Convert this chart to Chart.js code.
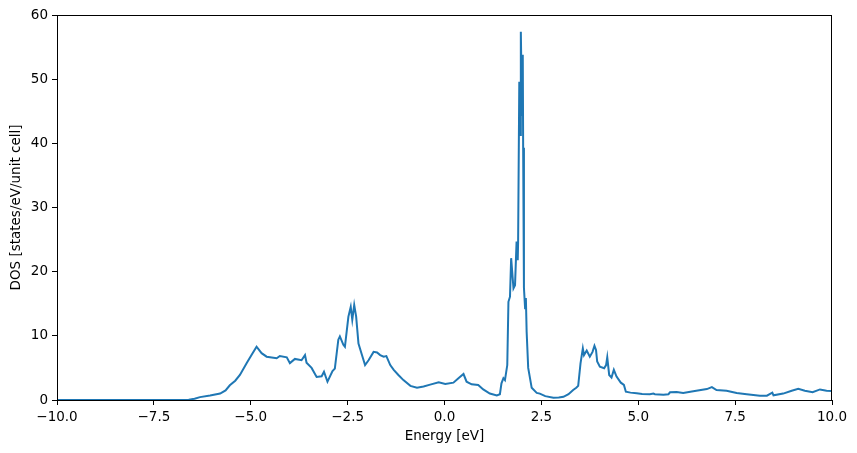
<!DOCTYPE html>
<html>
<head>
<meta charset="utf-8">
<script src="https://cdn.jsdelivr.net/npm/chart.js@4/dist/chart.umd.min.js"></script>
<style>
  html, body { margin: 0; padding: 0; background: #fff; }
  #wrap { width: 857px; height: 453px; }
</style>
</head>
<body>
<div id="wrap"><canvas id="dos" width="857" height="453"></canvas></div>
<script>
// Energy grid (eV) and density of states
const energy = [-10, -7.0, -6.6, -6.45, -6.31, -6.05, -5.79, -5.65, -5.54, -5.40, -5.28, -5.10, -4.98, -4.85, -4.72, -4.59, -4.33, -4.25,
  -4.07, -3.99, -3.86, -3.69, -3.60, -3.56, -3.43, -3.30, -3.17, -3.11, -3.02, -2.89, -2.83, -2.74, -2.70, -2.61,
  -2.57, -2.48, -2.42, -2.38, -2.33, -2.28, -2.22, -2.13, -2.05, -1.96, -1.83, -1.74, -1.66, -1.57, -1.50, -1.40,
  -1.31, -1.19, -1.06, -0.88, -0.71, -0.54, -0.37, -0.15, 0.02, 0.23, 0.36, 0.49, 0.57, 0.70, 0.87, 1.00, 1.17,
  1.35, 1.43, 1.47, 1.52, 1.56, 1.62, 1.65, 1.69, 1.72, 1.78, 1.82, 1.86, 1.89, 1.90, 1.93, 1.95, 1.97, 2.00,
  2.02, 2.03, 2.05, 2.08, 2.10, 2.12, 2.16, 2.25, 2.38, 2.46, 2.60, 2.81, 2.95, 3.07, 3.20, 3.32, 3.40, 3.45, 3.51, 3.57, 3.60, 3.67,
  3.75, 3.82, 3.87, 3.91, 3.94, 4.01, 4.12, 4.17, 4.20, 4.25, 4.31, 4.37, 4.44, 4.55, 4.63, 4.68, 4.80, 4.96, 5.10, 5.30,
  5.39, 5.43, 5.65, 5.78, 5.82, 5.99, 6.16, 6.42, 6.77, 6.90, 7.02, 7.28, 7.54, 7.80, 8.14, 8.32, 8.46, 8.49,
  8.74, 8.96, 9.13, 9.30, 9.50, 9.69, 9.86, 10.0];
const dos = [0, 0, 0.05, 0.2, 0.45, 0.7, 1.0, 1.5, 2.3, 3.0, 3.9, 5.8, 7.0, 8.3, 7.3, 6.75, 6.5, 6.85,
  6.65, 5.75, 6.4, 6.2, 7.0, 5.8, 5.0, 3.6, 3.7, 4.4, 2.85, 4.5, 4.9, 9.4, 9.9, 8.6,
  8.3, 13.0, 14.5, 12.5, 14.8, 13.0, 8.8, 7.0, 5.45, 6.2, 7.5, 7.4, 7.0, 6.75, 6.85, 5.45,
  4.7, 3.9, 3.1, 2.2, 1.9, 2.1, 2.4, 2.75, 2.5, 2.7, 3.4, 4.05, 2.85, 2.45, 2.35, 1.65, 1.0,
  0.7, 0.9, 2.6, 3.4, 3.1, 5.45, 15.3, 16.1, 22.1, 17.4, 17.9, 24.7, 21.8, 24.7, 49.6, 41.3, 57.4, 44.4,
  53.8, 39.3, 17.5, 14.3, 15.9, 10.6, 5.0, 1.9, 1.1, 1.0, 0.6, 0.36, 0.38, 0.5, 0.9, 1.55, 1.9, 2.2, 5.7, 8.05, 7.0, 7.7,
  6.75, 7.5, 8.45, 7.8, 6.0, 5.2, 4.95, 5.45, 6.65, 3.9, 3.5, 4.7, 3.65, 2.7, 2.35, 1.3, 1.15, 1.05, 0.95, 0.9,
  1.0, 0.9, 0.83, 0.9, 1.2, 1.25, 1.1, 1.35, 1.7, 2.0, 1.55, 1.45, 1.1, 0.9, 0.68, 0.68, 1.15, 0.73,
  1.0, 1.45, 1.75, 1.45, 1.2, 1.65, 1.45, 1.4];

const font = { family: 'DejaVu Sans', size: 13.5 };
const fmtX = v => v.toFixed(1).replace('-', '\u2212');

// matplotlib-like frame on all four sides
const frame = {
  id: 'frame',
  afterDraw(chart) {
    const { ctx, chartArea: a } = chart;
    ctx.save();
    ctx.strokeStyle = '#000';
    ctx.lineWidth = 1;
    ctx.strokeRect(a.left + 0.5, a.top + 0.5, a.right - a.left - 1, a.bottom - a.top);
    ctx.restore();
  }
};

new Chart(document.getElementById('dos'), {
  type: 'line',
  data: {
    datasets: [{
      data: energy.map((e, i) => ({ x: e, y: dos[i] })),
      borderColor: '#1f77b4',
      borderWidth: 2,
      pointRadius: 0,
      tension: 0,
      fill: false
    }]
  },
  options: {
    responsive: false,
    devicePixelRatio: 1,
    animation: false,
    layout: { padding: { left: 0, top: 15, right: 25, bottom: 0 } },
    plugins: { legend: { display: false }, tooltip: { enabled: false } },
    scales: {
      x: {
        type: 'linear',
        min: -10, max: 10,
        afterFit: s => { s.height = 53; },
        grid: { drawOnChartArea: false, drawTicks: true, tickLength: 5, color: '#000' },
        border: { display: true, color: '#000', width: 1 },
        ticks: { stepSize: 2.5, color: '#000', font, padding: 4, maxRotation: 0, callback: fmtX },
        title: { display: true, text: 'Energy [eV]', color: '#000', font, padding: { top: 0, bottom: 8 } }
      },
      y: {
        min: 0, max: 60,
        afterFit: s => { s.width = 57; },
        grid: { drawOnChartArea: false, drawTicks: true, tickLength: 5, color: '#000' },
        border: { display: true, color: '#000', width: 1 },
        ticks: { stepSize: 10, color: '#000', font, padding: 4 },
        title: { display: true, text: 'DOS [states/eV/unit cell]', color: '#000', font, padding: { top: 8, bottom: 0 } }
      }
    }
  },
  plugins: [frame]
});
</script>
</body>
</html>
